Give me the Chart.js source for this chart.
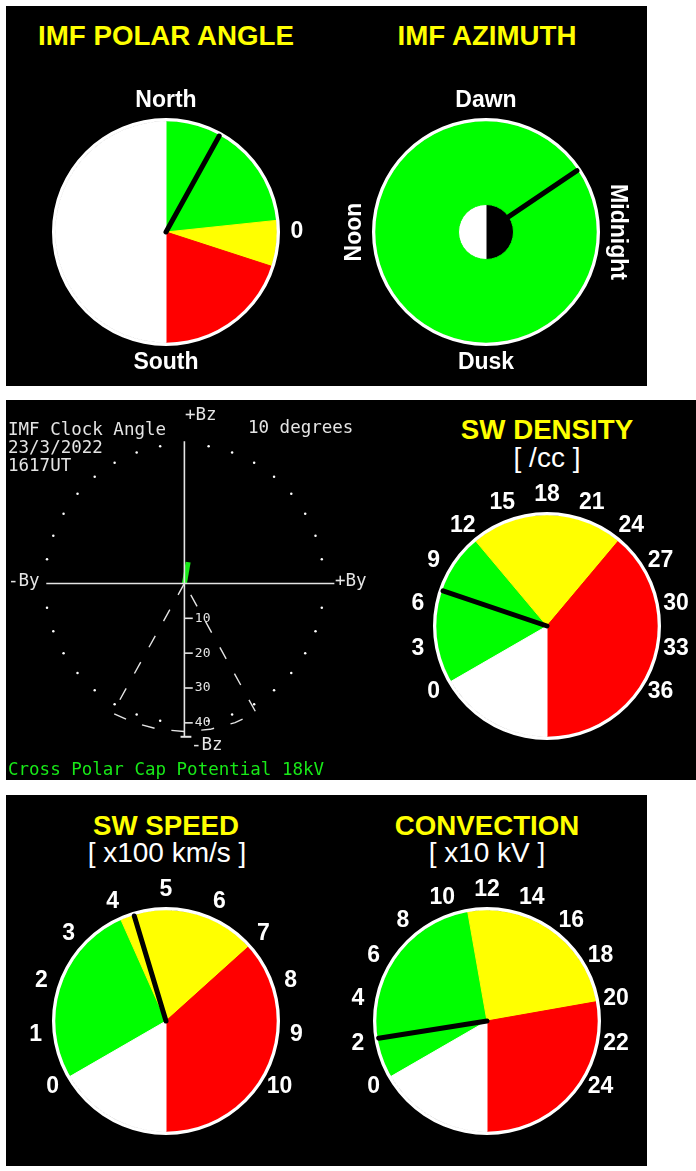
<!DOCTYPE html>
<html>
<head>
<meta charset="utf-8">
<script src="https://cdn.jsdelivr.net/npm/chart.js@4.4.1/dist/chart.umd.min.js"></script>
<style>
  html, body { margin: 0; padding: 0; background: #fff; }
  body { width: 696px; height: 1171px; position: relative; overflow: hidden;
         font-family: "Liberation Sans", Arial, Helvetica, sans-serif; }
  .panel { position: absolute; background: #000; }
  canvas { position: absolute; }
  .title { position: absolute; color: #ffff00; font-weight: bold; font-size: 27.7px; line-height: 1;
           transform: translate(-50%, -50%); white-space: nowrap; }
  .unit { position: absolute; color: #fff; font-size: 28px; line-height: 1;
          transform: translate(-50%, -50%); white-space: nowrap; }
</style>
</head>
<body>
<div class="panel" style="left:6px;top:6px;width:641px;height:380px"></div>
<div class="panel" style="left:6px;top:400px;width:690px;height:380px"></div>
<div class="panel" style="left:6px;top:795px;width:641px;height:371px"></div>

<div class="title" style="left:166px;top:36px">IMF POLAR ANGLE</div>
<div class="title" style="left:487px;top:36px">IMF AZIMUTH</div>
<div class="title" style="left:547px;top:430px">SW DENSITY</div>
<div class="unit" style="left:547px;top:458px">[ /cc ]</div>
<div class="title" style="left:166px;top:826px">SW SPEED</div>
<div class="unit" style="left:167px;top:853px">[ x100 km/s ]</div>
<div class="title" style="left:487px;top:826px">CONVECTION</div>
<div class="unit" style="left:487px;top:853px">[ x10 kV ]</div>

<canvas id="clock" width="394" height="380" style="left:6px;top:400px"></canvas>
<canvas id="polar" width="300" height="300" style="left:16px;top:82px"></canvas>
<canvas id="azimuth" width="300" height="300" style="left:336px;top:82px"></canvas>
<canvas id="density" width="300" height="300" style="left:397px;top:476px"></canvas>
<canvas id="speed" width="300" height="300" style="left:16px;top:871px"></canvas>
<canvas id="convection" width="300" height="300" style="left:337px;top:871px"></canvas>

<script>
// IMF polar angle, degrees (+90 north, -90 south)
var polarBandEdges = [90, 6, -18];
var polarNeedle = 61;
var polarLabels = ['North', '0', 'South'];
var polarLabelValues = [90, 0, -90];

// IMF azimuth, degrees clockwise from dawn
var azimuthNeedle = 56;
var azimuthLabels = ['Dawn', 'Midnight', 'Dusk', 'Noon'];
var azimuthLabelValues = [0, 90, 180, 270];

// IMF clock angle plot
var clockDate = '23/3/2022';
var clockTime = '1617UT';
var clockAngle = 10;
var clockLength = 6.2;
var clockTicks = [10, 20, 30, 40];
var clockRingRadius = 40;
var coneHalfAngle = 29;
var coneRadius = 42.5;
var crossPolarCapPotential = 18;

// solar wind density [/cc]
var densityTicks = [0, 3, 6, 9, 12, 15, 18, 21, 24, 27, 30, 33, 36];
var densityBandEdges = [0, 12, 24];
var densityNeedle = 7.3;

// solar wind speed [x100 km/s]
var speedTicks = [0, 1, 2, 3, 4, 5, 6, 7, 8, 9, 10];
var speedBandEdges = [0, 4, 7];
var speedNeedle = 4.3;

// convection [x10 kV]
var convectionTicks = [0, 2, 4, 6, 8, 10, 12, 14, 16, 18, 20, 22, 24];
var convectionBandEdges = [0, 11, 20];
var convectionNeedle = 2.1;

var bandColors = ['#00ff00', '#ffff00', '#ff0000'];
var FONT = '"Liberation Sans", Arial, Helvetica, sans-serif';
var MONO = '"DejaVu Sans Mono", monospace';

Chart.defaults.animation = false;
Chart.defaults.events = [];
Chart.defaults.plugins.legend.display = false;
Chart.defaults.plugins.tooltip.enabled = false;

function rad(d) { return d * Math.PI / 180; }

// needle + labels round a dial
function dialPlugin(g) {
    return {
        id: 'dial',
        afterDatasetsDraw: function(chart) {
            var arc = chart.getDatasetMeta(g.bandIndex).data[0];
            var cx = arc.x, cy = arc.y;
            var ctx = chart.ctx;
            var from = g.needleFrom ? chart.getDatasetMeta(g.needleFrom).data[0].outerRadius : 0;
            var to = arc.outerRadius - 1;
            var a = rad(g.angle(g.needle) - 90);
            ctx.save();
            ctx.strokeStyle = '#000';
            ctx.lineWidth = 5;
            ctx.lineCap = 'round';
            ctx.beginPath();
            ctx.moveTo(cx + from * Math.cos(a), cy + from * Math.sin(a));
            ctx.lineTo(cx + to * Math.cos(a), cy + to * Math.sin(a));
            ctx.stroke();

            ctx.fillStyle = '#fff';
            ctx.font = 'bold 23px ' + FONT;
            ctx.textAlign = 'center';
            ctx.textBaseline = 'middle';
            g.labels.forEach(function(t, i) {
                var b = rad(g.angle(g.labelValues[i]) - 90);
                ctx.save();
                ctx.translate(cx + 131 * Math.cos(b), cy + 131 * Math.sin(b));
                if (g.rotate) ctx.rotate(rad(g.rotate[i]));
                ctx.fillText(String(t), 0, 0);
                ctx.restore();
            });
            ctx.restore();
        }
    };
}

// banded gauge: green / yellow / red up to the bottom, white for the rest
function makeGauge(id, edges, needle, min, max, start, sweep, labels, labelValues) {
    var angle = function(v) { return start + (v - min) / (max - min) * sweep; };
    var a = edges.map(angle);
    var bandData = [a[1] - a[0], a[2] - a[1], 180 - a[2], a[0] + 180];
    var colors = bandColors.concat(['#ffffff']);
    new Chart(document.getElementById(id), {
        type: 'pie',
        data: {
            datasets: [
                { data: [1], backgroundColor: '#ffffff', borderWidth: 0, weight: 3.3 },
                { data: bandData, backgroundColor: colors, borderColor: colors, borderWidth: 1,
                  weight: 110.7, rotation: a[0] }
            ]
        },
        options: { responsive: false, radius: 114 },
        plugins: [dialPlugin({ bandIndex: 1, angle: angle, needle: needle,
                               labels: labels, labelValues: labelValues || labels })]
    });
}

makeGauge('polar', polarBandEdges, polarNeedle, 90, -90, 0, 180, polarLabels, polarLabelValues);
makeGauge('density', densityBandEdges, densityNeedle, 0, 36, -120, 240, densityTicks);
makeGauge('speed', speedBandEdges, speedNeedle, 0, 10, -120, 240, speedTicks);
makeGauge('convection', convectionBandEdges, convectionNeedle, 0, 24, -120, 240, convectionTicks);

// IMF azimuth
new Chart(document.getElementById('azimuth'), {
    type: 'pie',
    data: {
        datasets: [
            { data: [1], backgroundColor: '#ffffff', borderWidth: 0, weight: 3.3 },
            { data: [1], backgroundColor: '#00ff00', borderColor: '#00ff00', borderWidth: 1, weight: 83.2 },
            { data: [180, 180], backgroundColor: ['#000000', '#ffffff'], borderColor: ['#000000', '#ffffff'],
              borderWidth: 1, weight: 27.5, rotation: 0 }
        ]
    },
    options: { responsive: false, radius: 114 },
    plugins: [dialPlugin({ bandIndex: 1, needleFrom: 2, angle: function(v) { return v; },
                           needle: azimuthNeedle, labels: azimuthLabels,
                           labelValues: azimuthLabelValues, rotate: [0, 90, 0, -90] })]
});

// IMF clock angle plot
var lineColor = '#e4e4e4';
var clockGreen = '#18e818';
function pt(deg, r) { return { x: r * Math.sin(rad(deg)), y: r * Math.cos(rad(deg)) }; }
function lineDs(data, color, width, dash) {
    return { data: data, showLine: true, borderColor: color, borderWidth: width,
             borderDash: dash || [], pointRadius: 0, fill: false };
}
var ringDots = [];
for (var d = 10; d < 360; d += 10) {
    if (d % 90 !== 0) ringDots.push(pt(d, clockRingRadius));
}
var cone = [{ x: 0, y: 0 }, pt(180 + coneHalfAngle, coneRadius)];
[200, 190, 180, 170, 160].forEach(function(d) { cone.push(pt(d, coneRadius)); });
cone.push(pt(180 - coneHalfAngle, coneRadius), { x: 0, y: 0 });

var clockDatasets = [
    lineDs([{ x: -39.6, y: 0 }, { x: 43, y: 0 }], lineColor, 1.6),
    lineDs([{ x: 0, y: 40.8 }, { x: 0, y: -44 }], lineColor, 1.6),
    lineDs([{ x: -1.1, y: -44 }, { x: 2, y: -44 }], lineColor, 2),
    { data: ringDots, pointRadius: 1.25, backgroundColor: '#ffffff', borderWidth: 0 },
    lineDs(cone, lineColor, 1.4, [13, 17])
];
clockTicks.forEach(function(v) {
    clockDatasets.push(lineDs([{ x: 0, y: -v }, { x: 2.4, y: -v }], lineColor, 1.6));
});
clockDatasets.push(lineDs([{ x: 0, y: 0 }, pt(clockAngle, clockLength)], clockGreen, 5));

var clockText = {
    id: 'clockText',
    afterDatasetsDraw: function(chart) {
        var ctx = chart.ctx, sx = chart.scales.x, sy = chart.scales.y;
        ctx.save();
        ctx.fillStyle = lineColor;
        ctx.font = '13px ' + MONO;
        ctx.textBaseline = 'middle';
        clockTicks.forEach(function(v) {
            ctx.fillText(String(v), sx.getPixelForValue(3), sy.getPixelForValue(-v));
        });
        ctx.font = '17.5px ' + MONO;
        ctx.textBaseline = 'alphabetic';
        ctx.fillText('IMF Clock Angle', 2, 35);
        ctx.fillText(clockDate, 2, 53);
        ctx.fillText(clockTime, 2, 71);
        ctx.fillText('+Bz', 179, 20);
        ctx.fillText(clockAngle + ' degrees', 242, 33);
        ctx.fillText('-By', 2, 186);
        ctx.fillText('+By', 329, 186);
        ctx.fillText('-Bz', 185, 350);
        ctx.fillStyle = clockGreen;
        ctx.fillText('Cross Polar Cap Potential ' + crossPolarCapPotential + 'kV', 2, 375);
        ctx.restore();
    }
};

new Chart(document.getElementById('clock'), {
    type: 'scatter',
    data: { datasets: clockDatasets },
    options: {
        responsive: false,
        layout: { padding: 0 },
        scales: {
            x: { type: 'linear', display: false, min: -50, max: 60.67 },
            y: { type: 'linear', display: false, min: -55.25, max: 51.49 }
        }
    },
    plugins: [clockText]
});
</script>
</body>
</html>
